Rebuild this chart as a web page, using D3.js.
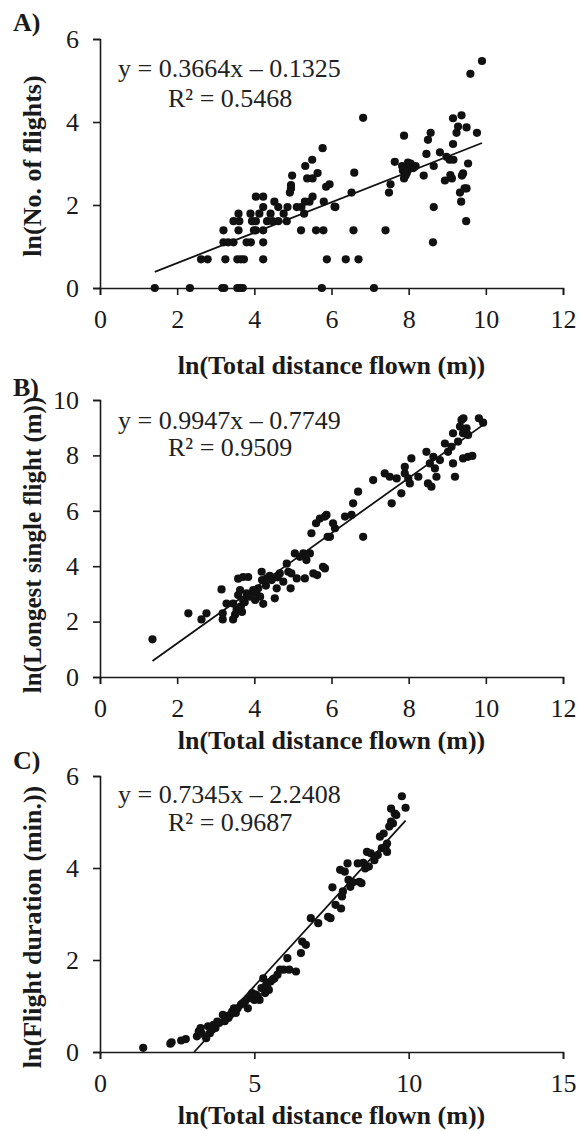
<!DOCTYPE html>
<html>
<head>
<meta charset="utf-8">
<script src="https://cdn.jsdelivr.net/npm/d3@7"></script>
<style>
  body { margin: 0; background: #fff; }
  svg text { font-family: "Liberation Serif", "Times New Roman", serif; fill: #1a1a1a; }
  .axis path, .axis line { stroke: #1a1a1a; stroke-width: 1.6; }
  .axis text { font-size: 26px; }
  .title { font-size: 26px; font-weight: bold; }
  .eq { font-size: 26px; fill: #222; }
</style>
</head>
<body>
<script>
// ---- data: ln(total distance flown) vs ...
// A) ln(No. of flights)
var pointsA = [
  [1.42,0],[2.33,0],[3.17,0],[3.22,0],[3.56,0],[3.63,0],[3.7,0],[5.75,0],[7.1,0],
  [2.62,0.69],[2.79,0.69],[3.25,0.69],[3.56,0.69],[3.65,0.69],[3.73,0.69],[4.23,0.69],[5.88,0.69],[6.37,0.69],[6.7,0.69],
  [3.2,1.1],[3.32,1.1],[3.46,1.1],[3.8,1.1],[3.91,1.1],[4.23,1.1],[8.63,1.1],
  [3.2,1.39],[3.59,1.39],[3.99,1.39],[4.04,1.39],[4.23,1.39],[5.21,1.39],[5.6,1.39],[5.79,1.39],[6.57,1.39],[7.4,1.39],
  [3.46,1.61],[3.61,1.61],[3.94,1.61],[4.04,1.61],[4.33,1.61],[4.47,1.61],[4.62,1.61],[4.84,1.61],[9.49,1.61],
  [3.59,1.79],[3.9,1.79],[4.13,1.79],[4.42,1.79],[4.76,1.79],[5.29,1.79],
  [4.23,1.95],[4.62,1.95],[4.86,1.95],[5.1,1.95],[5.22,1.95],[6.1,1.95],[8.65,1.95],[6.08,1.96],
  [4.52,2.08],[5.31,2.08],[5.43,2.08],[5.8,2.08],[9.36,2.08],
  [4.04,2.2],[4.23,2.2],[5.51,2.2],
  [4.92,2.3],[6.52,2.3],[7.49,2.3],[9.33,2.3],
  [4.95,2.4],[5.86,2.44],[9.5,2.4],[9.45,2.4],
  [4.95,2.48],[5.95,2.5],[7.53,2.5],
  [8.94,2.59],[5.37,2.64],[5.51,2.64],[7.88,2.64],[9.12,2.64],
  [4.98,2.71],[8.39,2.71],[9.08,2.72],[9.38,2.71],
  [5.64,2.77],[6.59,2.78],[9.41,2.76],
  [7.85,2.83],[7.9,2.89],[7.95,2.77],[8.0,2.94],[7.92,2.71],[8.05,3.0],[8.12,2.89],[7.83,2.94],[8.18,2.94],[7.98,2.84],
  [5.32,2.94],[8.65,2.94],[7.64,3.04],[7.98,3.02],[9.54,3.0],
  [5.5,3.09],[9.06,3.09],[9.16,3.09],[8.98,3.16],[8.81,3.27],[8.46,3.23],
  [5.77,3.37],[9.15,3.47],[8.5,3.57],[7.88,3.67],[8.57,3.74],
  [9.24,3.74],[9.77,3.74],[9.5,3.87],[9.28,3.89],
  [6.82,4.1],[9.15,4.09],[9.37,4.16],[9.6,5.16],[9.9,5.47]
];

// B) ln(Longest single flight (m))
var pointsB = [
  [1.36,1.36],[2.29,2.3],[2.63,2.08],[2.76,2.3],[3.15,3.16],[3.18,2.08],[3.18,2.3],[3.28,2.65],
  [3.45,2.65],[3.45,2.08],[3.54,2.42],[3.5,2.25],[3.68,2.35],[3.58,3.55],[3.71,3.61],[3.84,3.61],
  [3.58,2.96],[3.63,3.14],[3.65,2.55],[3.71,2.78],[3.75,2.7],[3.8,3.02],[3.89,2.9],[3.9,3.0],
  [3.97,3.14],[4.02,2.78],[4.05,3.05],[4.1,3.2],[4.15,2.9],[4.19,3.8],[4.2,3.5],[4.23,2.64],
  [4.3,3.3],[4.32,3.56],[4.4,3.65],[4.45,3.5],[4.53,2.84],[4.58,3.2],[4.6,3.6],[4.66,3.74],
  [4.75,3.44],[4.84,4.09],[4.88,3.8],[4.94,3.2],[4.96,3.74],[5.1,3.56],[5.05,4.46],[5.18,4.34],
  [5.27,4.46],[5.31,3.56],[5.35,4.22],[5.44,4.46],[5.48,5.19],[5.53,3.74],[5.6,5.55],[5.63,3.68],
  [5.7,5.72],[5.83,3.92],[5.87,5.85],[5.9,5.06],[5.83,5.79],[6.04,5.55],[5.78,3.98],[6.09,5.37],
  [5.96,5.06],[6.35,5.79],[6.52,5.85],[6.56,6.27],[6.69,6.69],[6.82,5.06],[7.08,7.11],[7.38,7.35],
  [7.51,7.23],[7.56,6.27],[7.69,7.17],[7.81,6.63],[7.9,7.59],[7.9,7.35],[7.99,7.17],[8.03,6.99],
  [8.07,7.89],[8.25,7.23],[8.46,8.13],[8.5,6.99],[8.59,6.87],[8.55,7.71],[8.64,7.95],[8.68,7.53],
  [8.72,7.23],[8.81,7.83],[8.94,8.43],[9.02,8.13],[9.11,8.31],[9.15,7.71],[9.15,8.8],[9.2,7.23],
  [9.28,8.5],[9.37,9.28],[9.42,9.34],[9.41,8.8],[9.5,8.98],[9.54,8.74],[9.41,7.89],[9.54,7.95],
  [9.65,7.98],[9.82,9.34],[9.93,9.18],[9.33,9.04]
];

// C) ln(Flight duration (min.))
var pointsC = [
  [1.4,0.09],[2.28,0.18],[2.32,0.21],[2.63,0.25],[2.78,0.28],[3.14,0.34],[3.2,0.45],[3.26,0.52],
  [3.44,0.3],[3.5,0.56],[3.56,0.41],[3.62,0.48],[3.68,0.59],[3.74,0.52],[3.86,0.63],[3.98,0.81],
  [4.04,0.67],[4.16,0.74],[4.22,0.81],[4.34,0.95],[4.4,0.85],[4.46,0.95],[4.57,1.03],[4.7,1.1],
  [4.79,0.95],[4.84,1.17],[4.93,1.28],[5.0,1.13],[5.11,1.21],[5.17,1.13],[5.23,1.39],[5.29,1.6],
  [5.35,1.28],[5.41,1.49],[5.47,1.35],[5.53,1.53],[5.65,1.6],[5.75,1.68],[5.83,1.79],[5.95,1.79],
  [6.07,2.04],[6.13,1.79],[6.35,1.75],[6.51,2.15],[6.55,2.4],[6.67,2.33],[6.83,2.91],[7.07,2.8],
  [7.39,2.94],[7.47,2.91],[7.53,3.58],[7.63,3.2],[7.81,3.12],[7.84,3.38],[7.87,3.49],[7.78,3.96],
  [7.93,3.92],[8.02,4.1],[8.05,3.74],[8.11,3.59],[8.2,3.69],[8.4,3.7],[8.47,3.67],[8.35,4.1],
  [8.53,4.11],[8.65,4.35],[8.59,3.99],[8.71,4.03],[8.77,4.32],[8.89,4.17],[9.0,4.28],[9.07,4.68],
  [9.13,4.43],[9.25,4.46],[9.19,4.75],[9.3,4.35],[9.37,4.9],[9.43,5.29],[9.49,4.97],[9.55,5.18],
  [9.6,5.15],[9.78,5.56],[9.9,5.31],[9.3,4.53],[9.43,5.01],
  [3.3,0.4],[3.8,0.66],[4.1,0.78],[4.28,0.88],[4.62,1.06],[5.05,1.25],[5.38,1.45],[5.6,1.58]
];

var xTicksAB = [0, 2, 4, 6, 8, 10, 12];
var xTicksC  = [0, 5, 10, 15];
var yTicksA  = [0, 2, 4, 6];
var yTicksB  = [0, 2, 4, 6, 8, 10];
var yTicksC  = [0, 2, 4, 6];

var slopes     = [0.3664, 0.9947, 0.7345];
var intercepts = [-0.1325, -0.7749, -2.2408];
var rSquared   = [0.5468, 0.9509, 0.9687];

var panelLabels = ["A)", "B)", "C)"];
var yTitles = ["ln(No. of flights)", "ln(Longest single flight (m))", "ln(Flight duration (min.))"];
var xTitle = "ln(Total distance flown (m))";

// ---- layout
var W = 581, H = 1131;
var left = 100, right = 563;

var panels = [
  { pts: pointsA, xt: xTicksAB, yt: yTicksA, top: 39,  bottom: 288,  eqY: 77,  r2Y: 107, labY: 31,  ytY: 166, ytSize: 26, xtY: 374 },
  { pts: pointsB, xt: xTicksAB, yt: yTicksB, top: 400, bottom: 677,  eqY: 429, r2Y: 456, labY: 396, ytY: 545, ytSize: 25, xtY: 749 },
  { pts: pointsC, xt: xTicksC,  yt: yTicksC, top: 776, bottom: 1052, eqY: 803, r2Y: 831, labY: 769, ytY: 927, ytSize: 26, xtY: 1124 }
];

var svg = d3.select("body").append("svg")
  .attr("width", W)
  .attr("height", H);

panels.forEach(function (p, i) {
  var x = d3.scaleLinear()
    .domain([0, d3.max(p.xt)])
    .range([left, right]);
  var y = d3.scaleLinear()
    .domain([0, d3.max(p.yt)])
    .range([p.bottom, p.top]);

  var g = svg.append("g");

  // axes
  g.append("g")
    .attr("class", "axis")
    .attr("transform", "translate(0," + p.bottom + ")")
    .call(d3.axisBottom(x).tickValues(p.xt).tickSize(7).tickPadding(15).tickFormat(d3.format("d")));

  g.append("g")
    .attr("class", "axis")
    .attr("transform", "translate(" + left + ",0)")
    .call(d3.axisLeft(y).tickValues(p.yt).tickSize(7).tickPadding(14).tickFormat(d3.format("d")));

  g.selectAll(".axis text").attr("font-family", null).style("font-size", "26px");

  // points
  g.selectAll("circle")
    .data(p.pts)
    .enter()
    .append("circle")
    .attr("cx", function (d) { return x(d[0]); })
    .attr("cy", function (d) { return y(d[1]); })
    .attr("r", 4.1)
    .style("fill", "#111");

  // linear trendline, clipped at y = 0 like the spreadsheet does
  var m = slopes[i], b = intercepts[i];
  var xs = d3.extent(p.pts, function (d) { return d[0]; });
  var x0 = Math.max(xs[0], -b / m);
  g.append("line")
    .attr("x1", x(x0)).attr("y1", y(m * x0 + b))
    .attr("x2", x(xs[1])).attr("y2", y(m * xs[1] + b))
    .style("stroke", "#111")
    .style("stroke-width", 1.8);

  // equation text
  g.append("text")
    .attr("class", "eq")
    .attr("x", 118)
    .attr("y", p.eqY)
    .text("y = " + m.toFixed(4) + "x \u2013 " + Math.abs(b).toFixed(4));
  g.append("text")
    .attr("class", "eq")
    .attr("x", 168)
    .attr("y", p.r2Y)
    .text("R\u00b2 = " + rSquared[i].toFixed(4));

  // titles
  g.append("text")
    .attr("class", "title")
    .attr("text-anchor", "middle")
    .attr("x", (left + right) / 2)
    .attr("y", p.xtY)
    .text(xTitle);

  g.append("text")
    .attr("class", "title")
    .attr("text-anchor", "middle")
    .style("font-size", p.ytSize + "px")
    .attr("transform", "translate(41," + p.ytY + ") rotate(-90)")
    .text(yTitles[i]);

  g.append("text")
    .attr("class", "title")
    .attr("x", 13)
    .attr("y", p.labY)
    .text(panelLabels[i]);
});
</script>
</body>
</html>
